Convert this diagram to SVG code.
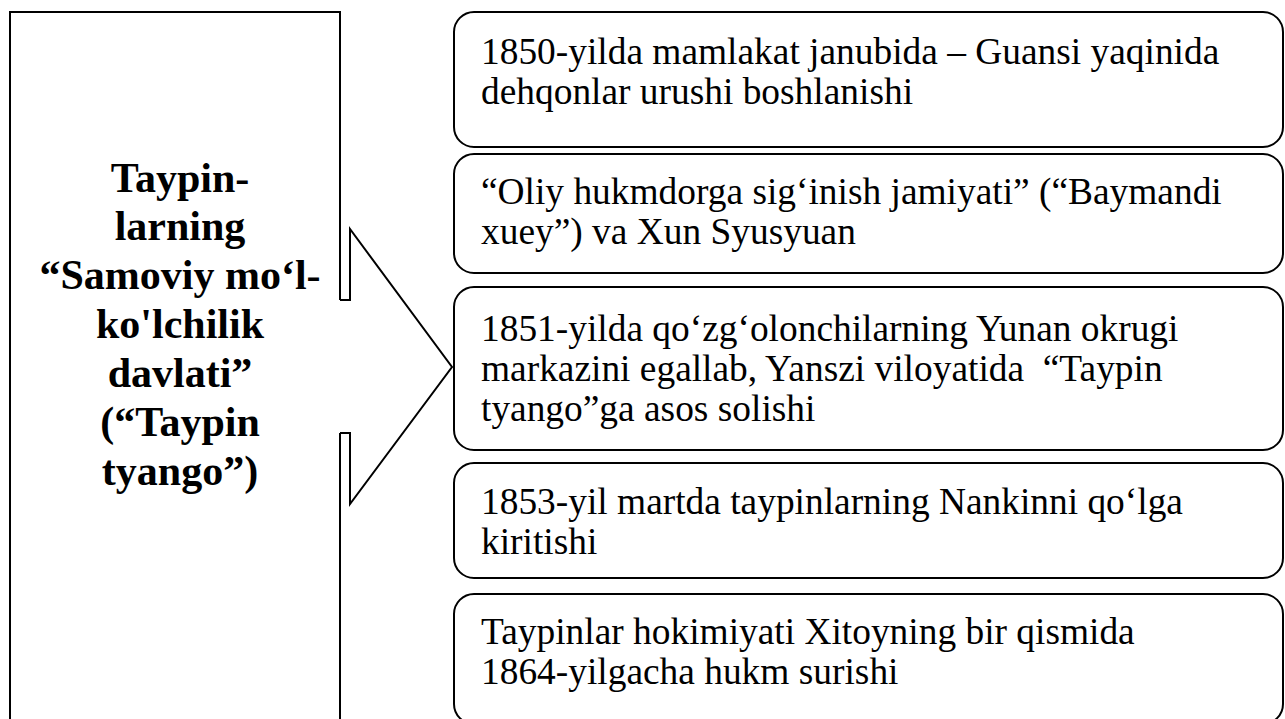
<svg xmlns="http://www.w3.org/2000/svg" width="1285" height="719" viewBox="0 0 1285 719">
<style>
.ln{fill:none;stroke:#000;stroke-width:2;stroke-linejoin:miter}
.box{fill:#fff;stroke:#000;stroke-width:2}
.t{font-family:"Liberation Serif","Times New Roman",serif;font-size:37.4px;fill:#000;white-space:pre}
.b{font-family:"Liberation Serif","Times New Roman",serif;font-size:42px;font-weight:bold;fill:#000;text-anchor:middle}
</style>
<rect width="1285" height="719" fill="#fff"/>
<g id="main">
<path class="ln" d="M10,740 V12 H340 V300 M340,433 V740"/>
<text class="b" x="180" y="192">Taypin-</text>
<text class="b" x="180" y="240">larning</text>
<text class="b" x="180" y="289">“Samoviy mo‘l-</text>
<text class="b" x="180" y="338">ko'lchilik</text>
<text class="b" x="180" y="387">davlati”</text>
<text class="b" x="180" y="436">(“Taypin</text>
<text class="b" x="180" y="485">tyango”)</text>
</g>
<g id="connectors">
<path class="ln" d="M340,300 H350 V229 L452,367 L350,504 V433 H340"/>
</g>
<g id="n1">
<rect class="box" x="454" y="12" width="829" height="135" rx="20"/>
<text class="t" x="481" y="64">1850-yilda mamlakat janubida – Guansi yaqinida</text>
<text class="t" x="481" y="104">dehqonlar urushi boshlanishi</text>
</g>
<g id="n2">
<rect class="box" x="454" y="154" width="829" height="119" rx="20"/>
<text class="t" x="481" y="204">“Oliy hukmdorga sig‘inish jamiyati” (“Baymandi</text>
<text class="t" x="481" y="244">xuey”) va Xun Syusyuan</text>
</g>
<g id="n3">
<rect class="box" x="454" y="287" width="829" height="163" rx="20"/>
<text class="t" x="481" y="341">1851-yilda qo‘zg‘olonchilarning Yunan okrugi</text>
<text class="t" x="481" y="381">markazini egallab, Yanszi viloyatida  “Taypin</text>
<text class="t" x="481" y="421">tyango”ga asos solishi</text>
</g>
<g id="n4">
<rect class="box" x="454" y="463" width="829" height="115" rx="20"/>
<text class="t" x="481" y="514">1853-yil martda taypinlarning Nankinni qo‘lga</text>
<text class="t" x="481" y="554">kiritishi</text>
</g>
<g id="n5">
<rect class="box" x="454" y="594" width="829" height="130" rx="20"/>
<text class="t" x="481" y="644">Taypinlar hokimiyati Xitoyning bir qismida</text>
<text class="t" x="481" y="684">1864-yilgacha hukm surishi</text>
</g>
</svg>
